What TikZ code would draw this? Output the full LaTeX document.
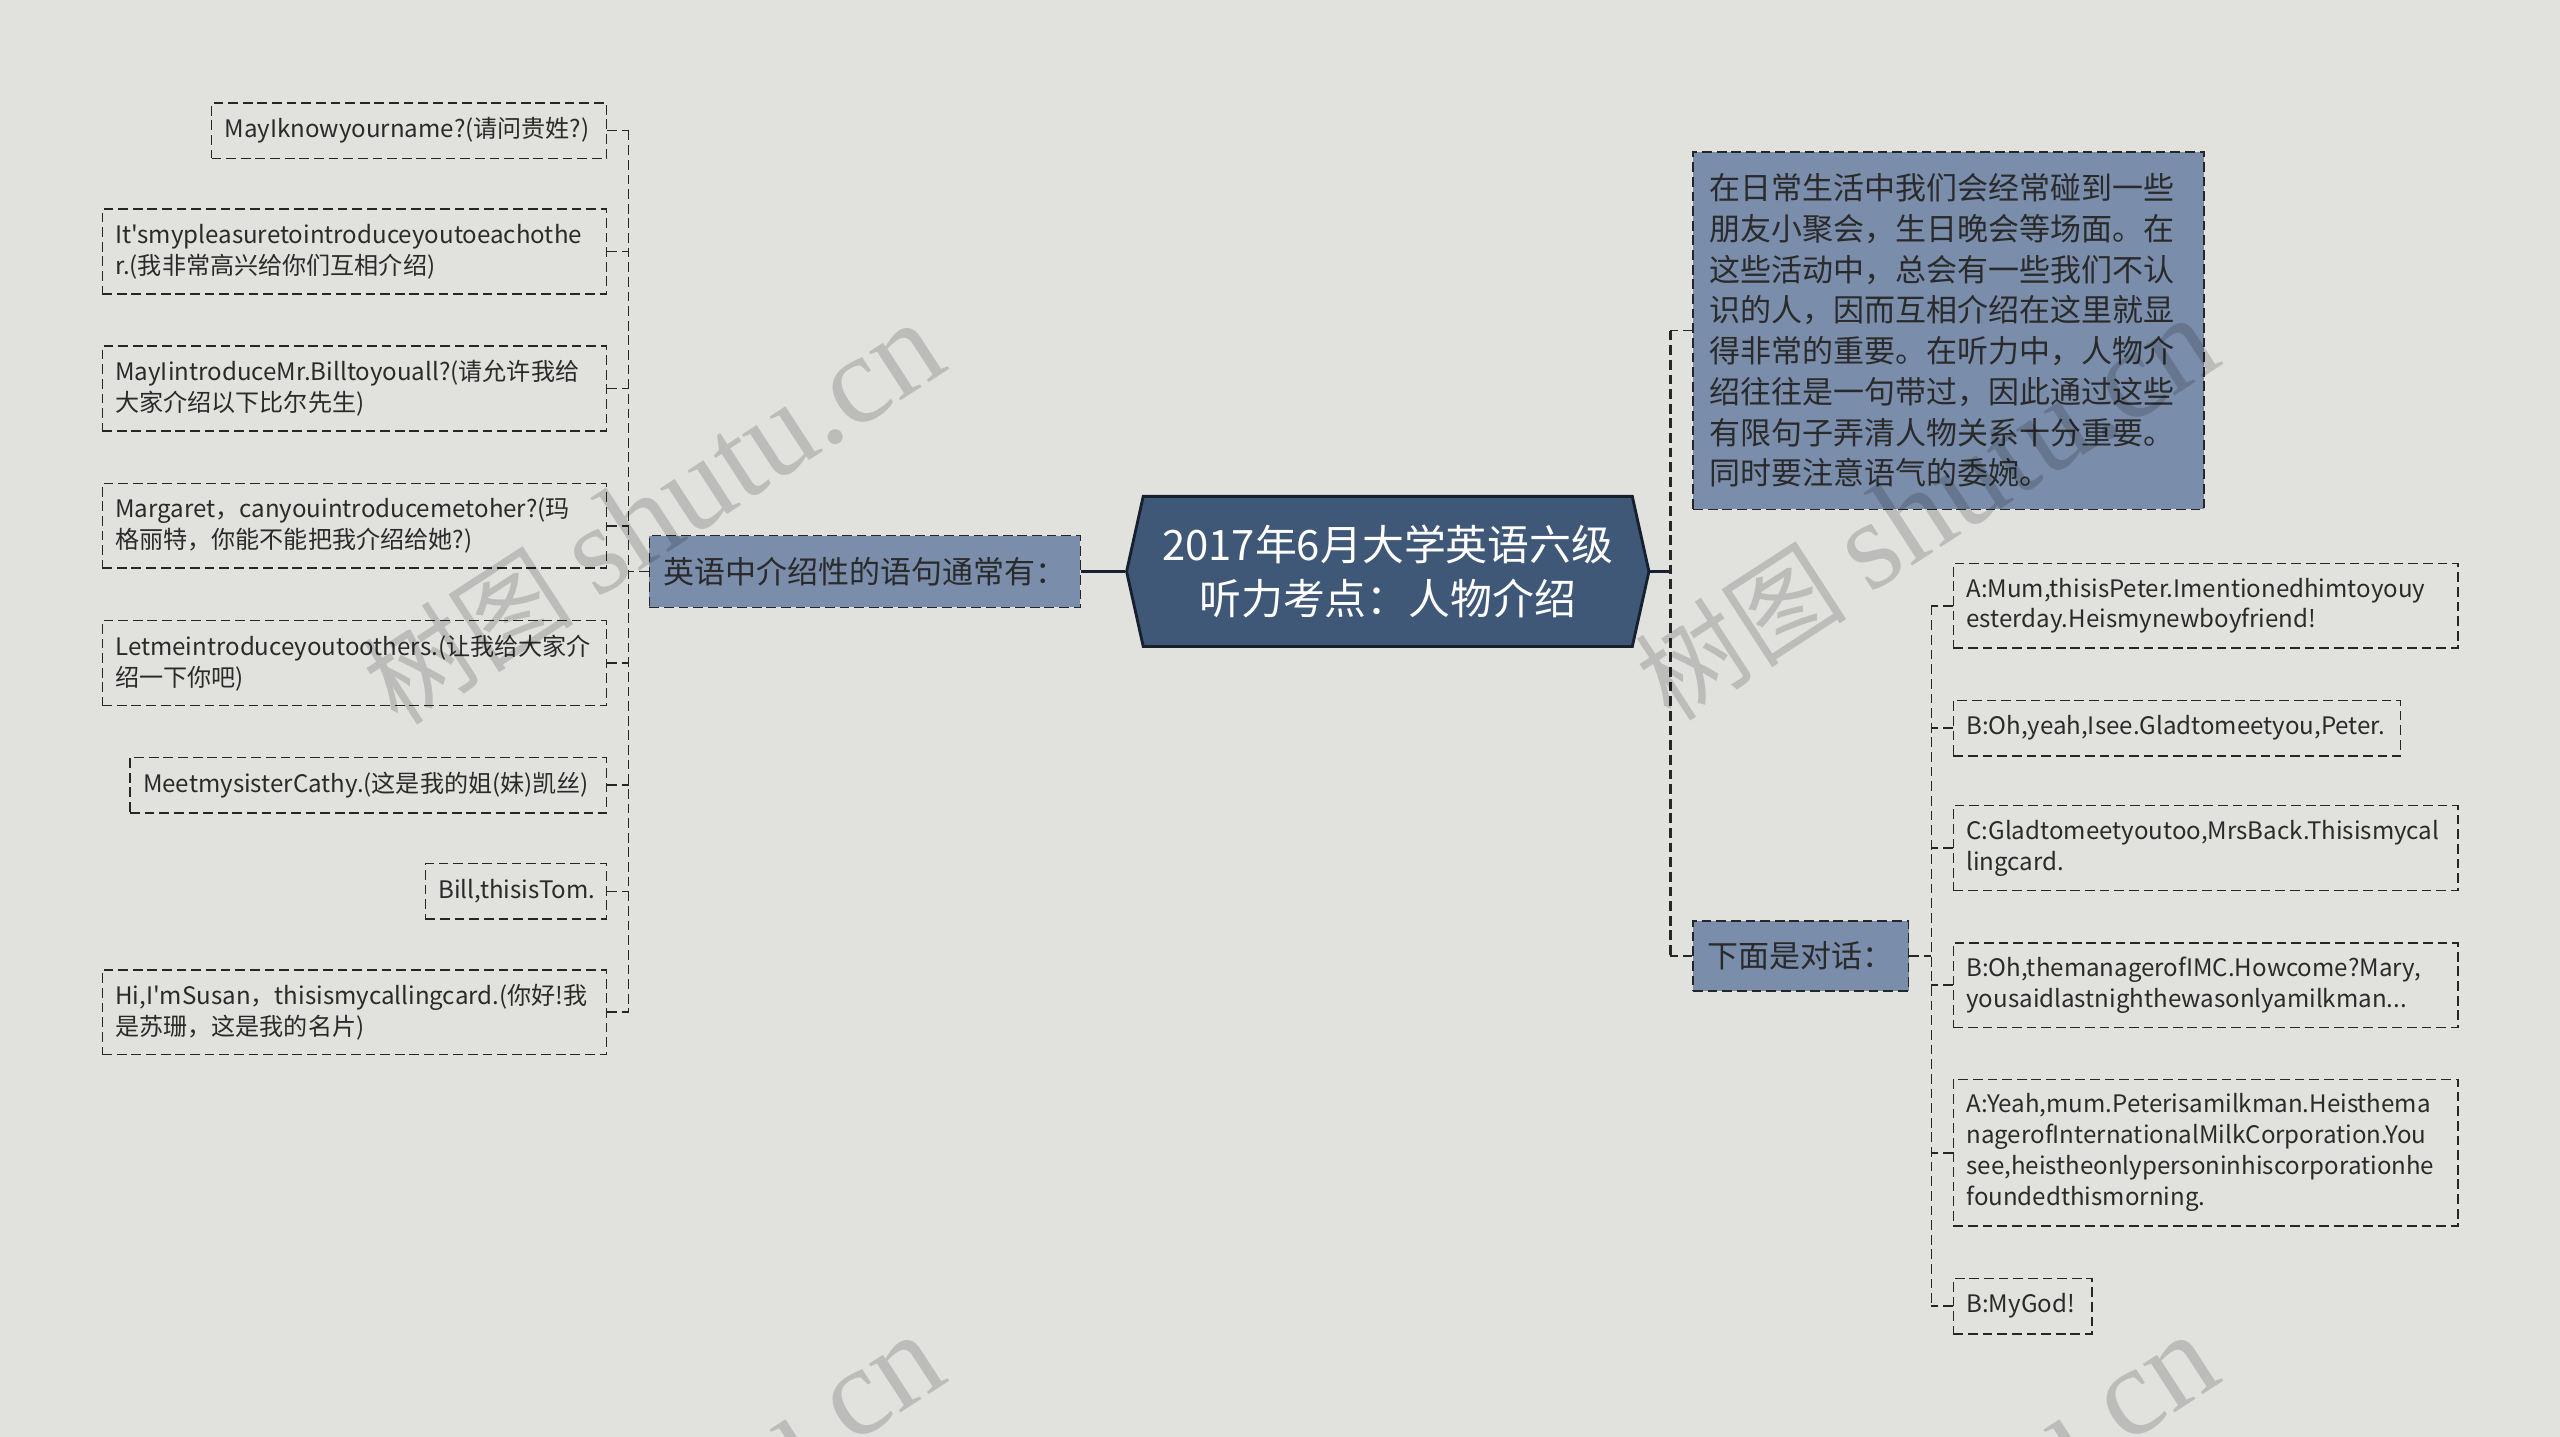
\documentclass[tikz,border=0pt]{standalone}
\usepackage{fontspec}
\setmainfont{Noto Sans CJK SC}[Ligatures=TeXOff]
\newfontfamily\wmfont{Liberation Serif}
\usetikzlibrary{shapes.symbols,positioning}

\definecolor{paper}{HTML}{E1E2DE}
\definecolor{rootblue}{HTML}{3F5878}
\definecolor{rootedge}{HTML}{17202E}
\definecolor{branchblue}{HTML}{7A8DAB}
\definecolor{ink}{HTML}{2A2A2A}

\begin{document}
\begin{tikzpicture}[x=0.02cm, y=-0.02cm]
		% Node style
		\tikzstyle{root} = [signal, signal to=west and east, signal pointer angle=155, draw=rootedge, line width=1pt, fill=rootblue, text=white, align=center, minimum width=6.4cm, minimum height=1.84cm, font=\fontsize{14.6}{18.8}\selectfont]
		\tikzstyle{branch} = [rectangle, draw=black!85, dash pattern=on 3.4pt off 1.7pt, line width=0.5pt, fill=branchblue, text=ink, font=\fontsize{10.8}{14.2}\selectfont]
		\tikzstyle{leaf} = [rectangle, draw=black!85, dash pattern=on 3.4pt off 1.7pt, line width=0.5pt, text=ink, align=left, inner xsep=0.16cm, inner ysep=0.08cm, minimum height=0.68cm, font=\fontsize{8.4}{10.8}\selectfont]
		\tikzstyle{link} = [draw=black!85, dash pattern=on 3.4pt off 1.7pt, line width=0.6pt]
		\tikzstyle{trunk} = [draw=rootedge, line width=0.9pt]
		\tikzstyle{watermark} = [rotate=33, text=black, text opacity=0.16, font=\fontsize{37}{42}\selectfont]
		
		% Page
		\useasboundingbox (0,0) rectangle (1568,880);
		\clip (0,0) rectangle (1568,880);
		\fill[paper] (0,0) rectangle (1568,880);
		
		% Nodes
		\node[root] (root) at (850,350) {2017年6月大学英语六级\\听力考点：人物介绍};
		\node[branch, left=0.54cm of root, minimum width=5.28cm, minimum height=0.88cm] (intro) {英语中介绍性的语句通常有：};
		\node[branch, align=left, text width=5.86cm, inner xsep=0.2cm, minimum height=4.38cm] (para) at (1193.5,202.5) {在日常生活中我们会经常碰到一些\\朋友小聚会，生日晚会等场面。在\\这些活动中，总会有一些我们不认\\识的人，因而互相介绍在这里就显\\得非常的重要。在听力中，人物介\\绍往往是一句带过，因此通过这些\\有限句子弄清人物关系十分重要。\\同时要注意语气的委婉。};
		\node[branch, minimum width=2.64cm, minimum height=0.86cm] (dlg) at (1103,585.5) {下面是对话：};
		
		\coordinate (lbar) at (385,350);
		\coordinate (rbar) at (1023,350);
		\coordinate (dbar) at (1183,585.5);
		
		\node[leaf, text width=4.52cm, anchor=east] (l1) at (372,80) {MayIknowyourname?(请问贵姓?)};
		\node[leaf, text width=5.86cm, minimum height=1.04cm, anchor=east] (l2) at (372,154) {It'smypleasuretointroduceyoutoeachothe\\r.(我非常高兴给你们互相介绍)};
		\node[leaf, text width=5.86cm, minimum height=1.04cm, anchor=east] (l3) at (372,238) {MayIintroduceMr.Billtoyouall?(请允许我给\\大家介绍以下比尔先生)};
		\node[leaf, text width=5.86cm, minimum height=1.04cm, anchor=east] (l4) at (372,322) {Margaret，canyouintroducemetoher?(玛\\格丽特，你能不能把我介绍给她?)};
		\node[leaf, text width=5.86cm, minimum height=1.04cm, anchor=east] (l5) at (372,406) {Letmeintroduceyoutoothers.(让我给大家介\\绍一下你吧)};
		\node[leaf, text width=5.52cm, anchor=east] (l6) at (372,481) {MeetmysisterCathy.(这是我的姐(妹)凯丝)};
		\node[leaf, text width=1.9cm, anchor=east] (l7) at (372,546) {Bill,thisisTom.};
		\node[leaf, text width=5.86cm, minimum height=1.04cm, anchor=east] (l8) at (372,620) {Hi,I'mSusan，thisismycallingcard.(你好!我\\是苏珊，这是我的名片)};
		
		\node[leaf, text width=5.86cm, minimum height=1.04cm, anchor=west] (r1) at (1196,371) {A:Mum,thisisPeter.Imentionedhimtoyouy\\esterday.Heismynewboyfriend!};
		\node[leaf, text width=5.16cm, anchor=west] (r2) at (1196,446) {B:Oh,yeah,Isee.Gladtomeetyou,Peter.};
		\node[leaf, text width=5.86cm, minimum height=1.04cm, anchor=west] (r3) at (1196,519.5) {C:Gladtomeetyoutoo,MrsBack.Thisismycal\\lingcard.};
		\node[leaf, text width=5.86cm, minimum height=1.04cm, anchor=west] (r4) at (1196,603.5) {B:Oh,themanagerofIMC.Howcome?Mary,\\yousaidlastnighthewasonlyamilkman...};
		\node[leaf, text width=5.86cm, minimum height=1.8cm, anchor=west] (r5) at (1196,706) {A:Yeah,mum.Peterisamilkman.Heisthema\\nagerofInternationalMilkCorporation.You\\see,heistheonlypersoninhiscorporationhe\\foundedthismorning.};
		\node[leaf, text width=1.38cm, anchor=west] (r6) at (1196,800) {B:MyGod!};
		
		% Arrows
		\draw[trunk] (root.west) -- (intro.east);
		\draw[link] (intro.west) -- (lbar);
		\draw[link] (l1.east -| lbar) -- (l8.east -| lbar);
		\draw[link] (l1.east) -- (l1.east -| lbar);
		\draw[link] (l2.east) -- (l2.east -| lbar);
		\draw[link] (l3.east) -- (l3.east -| lbar);
		\draw[link] (l4.east) -- (l4.east -| lbar);
		\draw[link] (l5.east) -- (l5.east -| lbar);
		\draw[link] (l6.east) -- (l6.east -| lbar);
		\draw[link] (l7.east) -- (l7.east -| lbar);
		\draw[link] (l8.east) -- (l8.east -| lbar);
		
		\draw[trunk] (root.east) -- (rbar);
		\draw[link, line width=1pt] (para.west -| rbar) -- (dlg.west -| rbar);
		\draw[link] (para.west) -- (para.west -| rbar);
		\draw[link] (dlg.west) -- (dlg.west -| rbar);
		\draw[link] (dlg.east) -- (dbar);
		\draw[link] (r1.west -| dbar) -- (r6.west -| dbar);
		\draw[link] (r1.west) -- (r1.west -| dbar);
		\draw[link] (r2.west) -- (r2.west -| dbar);
		\draw[link] (r3.west) -- (r3.west -| dbar);
		\draw[link] (r4.west) -- (r4.west -| dbar);
		\draw[link] (r5.west) -- (r5.west -| dbar);
		\draw[link] (r6.west) -- (r6.west -| dbar);
		
		% Watermarks
		\node[watermark] (wm1) at (400,315) {树图 {\wmfont\fontsize{44}{50}\selectfont shutu.cn}};
		\node[watermark] (wm2) at (1180,312) {树图 {\wmfont\fontsize{44}{50}\selectfont shutu.cn}};
		\node[watermark] (wm3) at (400,935) {树图 {\wmfont\fontsize{44}{50}\selectfont shutu.cn}};
		\node[watermark] (wm4) at (1180,935) {树图 {\wmfont\fontsize{44}{50}\selectfont shutu.cn}};
	\end{tikzpicture}
\end{document}
